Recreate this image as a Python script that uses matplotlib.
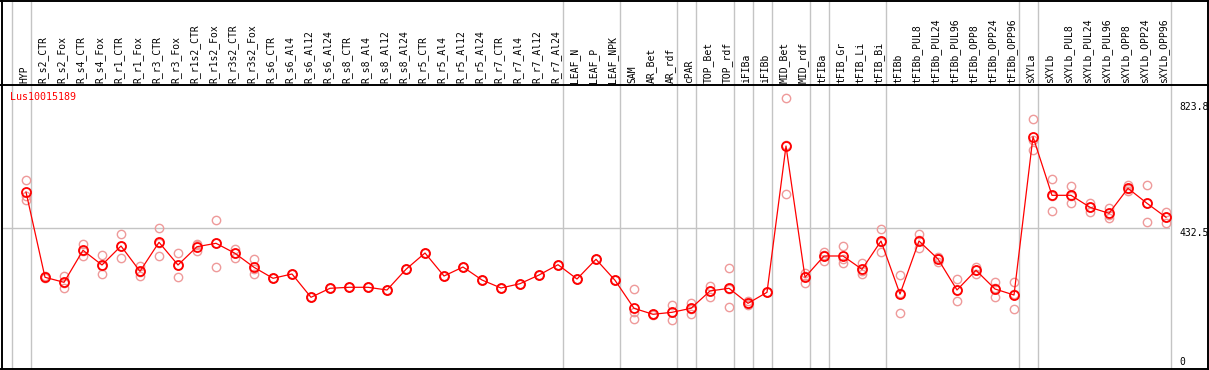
import matplotlib
matplotlib.use("Agg")
import matplotlib.pyplot as plt
from matplotlib.lines import Line2D
import matplotlib.transforms as mtransforms

# ---------------- data ----------------
gene = "Lus10015189"

samples = ["HYP", "R_s2_CTR", "R_s2_Fox", "R_s4_CTR", "R_s4_Fox", "R_r1_CTR", "R_r1_Fox",
           "R_r3_CTR", "R_r3_Fox", "R_r1s2_CTR", "R_r1s2_Fox", "R_r3s2_CTR", "R_r3s2_Fox",
           "R_s6_CTR", "R_s6_Al4", "R_s6_Al12", "R_s6_Al24", "R_s8_CTR", "R_s8_Al4",
           "R_s8_Al12", "R_s8_Al24", "R_r5_CTR", "R_r5_Al4", "R_r5_Al12", "R_r5_Al24",
           "R_r7_CTR", "R_r7_Al4", "R_r7_Al12", "R_r7_Al24", "LEAF_N", "LEAF_P", "LEAF_NPK",
           "SAM", "AR_Bet", "AR_rdf", "cPAR", "TOP_Bet", "TOP_rdf", "iFIBa", "iFIBb",
           "MID_Bet", "MID_rdf", "tFIBa", "tFIB_Gr", "tFIB_Li", "tFIB_Bi", "tFIBb",
           "tFIBb_PUL8", "tFIBb_PUL24", "tFIBb_PUL96", "tFIBb_OPP8", "tFIBb_OPP24", "tFIBb_OPP96",
           "sXYLa", "sXYLb", "sXYLb_PUL8", "sXYLb_PUL24", "sXYLb_PUL96", "sXYLb_OPP8",
           "sXYLb_OPP24", "sXYLb_OPP96"]

means = [544.5, 279.1, 263.5, 363.1, 317.4, 376.5, 297.8, 388.0, 317.4, 374.3, 384.9, 353.8, 310.2,
         276.0, 289.4, 216.9, 244.9, 248.0, 248.0, 239.6, 304.0, 354.7, 283.1, 311.1, 270.7,
         245.8, 259.2, 286.2, 318.3, 273.8, 335.1, 269.8,
         182.6, 164.0, 170.2, 182.6, 236.5, 244.9, 198.2, 232.4,
         687.6, 279.1, 345.4, 345.4, 304.0, 392.0, 227.1,
         392.0, 336.0, 239.6, 300.9, 242.7, 224.0,
         716.6, 534.2, 534.2, 496.9, 478.2, 556.0, 509.3, 465.8]

rep1 = [581.8, 276.0, 283.1, 382.7, 348.5, 413.8, 315.2, 432.5, 354.7, 383.6, 456.4, 368.1, 336.0,
        276.5, 289.0, 217.5, 245.5, 248.5, 247.5, 240.0, 304.5, 355.0, 283.5, 311.5, 271.0,
        246.0, 259.5, 286.5, 318.0, 274.0, 335.5, 270.0,
        241.8, 163.0, 192.9, 200.1, 253.0, 307.1, 205.4, 232.0,
        836.0, 293.4, 358.7, 376.5, 324.5, 428.4, 285.3,
        412.9, 343.2, 272.9, 312.1, 264.5, 264.5,
        770.7, 584.9, 562.2, 511.2, 495.6, 567.2, 566.3, 483.2]

rep2 = [519.6, 282.0, 244.9, 344.4, 289.4, 338.2, 282.2, 344.4, 279.1, 360.9, 311.1, 340.1, 288.4,
        275.5, 290.0, 216.5, 244.5, 247.5, 248.5, 239.0, 303.5, 354.5, 282.5, 310.5, 270.5,
        245.5, 259.0, 286.0, 318.5, 273.5, 334.5, 269.5,
        172.1, 165.0, 145.3, 165.8, 218.7, 185.8, 196.0, 233.0,
        537.3, 262.3, 329.8, 324.5, 290.3, 358.7, 167.1,
        369.3, 325.8, 205.4, 290.3, 216.9, 180.5,
        675.2, 484.4, 509.3, 481.3, 464.5, 547.6, 450.2, 449.0]

rep3 = [532.0, 279.5, 262.5, 362.2, 314.3, 377.5, 296.0, 387.1, 318.4, 378.4, 387.2, 353.2, 306.2,
        276.0, 289.5, 217.0, 245.0, 248.0, 248.0, 239.5, 304.0, 354.5, 283.0, 311.0, 270.5,
        246.0, 259.0, 286.0, 318.5, 274.0, 335.0, 270.0,
        148.4, 164.0, 172.4, 181.9, 237.8, 241.8, 193.2, 232.5,
        689.5, 281.6, 347.7, 335.2, 297.2, 388.9, 228.9,
        393.8, 339.0, 240.5, 300.3, 246.7, 227.0,
        706.3, 533.3, 531.1, 498.2, 474.5, 553.2, 511.4, 465.2]

# group separators (placed after these sample indices)
separators_after = [-1, 0, 28, 31, 34, 35, 37, 38, 39, 41, 42, 45, 52, 53, 60]
tick_values = [823.8, 432.5, 0]
tick_labels = ["823.8", "432.5", "0"]

# ---------------- layout ----------------
W, H = 1209, 370
fig = plt.figure(figsize=(W / 100, H / 100), dpi=100)
fig.patch.set_facecolor("white")

ax_left, ax_right = 1, 1170
ax_top, ax_bottom = 85, 369
ax = fig.add_axes([ax_left / W, 1 - ax_bottom / H, (ax_right - ax_left) / W, (ax_bottom - ax_top) / H])

x0_px, dx_px = 26.0, 19.0
ax.set_xlim((ax_left - x0_px) / dx_px, (ax_right - x0_px) / dx_px)
scale = 0.32139
y0_px = 367.0
ax.set_ylim((y0_px - ax_bottom) / scale, (y0_px - ax_top) / scale)
ax.set_xticks([])
ax.set_yticks([])
for s in ax.spines.values():
    s.set_visible(False)
ax.patch.set_alpha(0)

n = len(samples)
xs = list(range(n))

grey = "#c4c4c4"
top_extra = ax_bottom / (ax_bottom - ax_top)
for k in separators_after:
    ax.axvline(k + 4.5 / dx_px, ymin=0, ymax=top_extra, color=grey, lw=1.0, clip_on=False, zorder=1)
ax.axhline(432.5, color=grey, lw=1.0, zorder=1)

# replicates
for reps in (rep1, rep2, rep3):
    ax.plot(xs, reps, linestyle="none", marker="o", markersize=6.0, markerfacecolor="none",
            markeredgecolor="#ee9a9a", markeredgewidth=1.0, zorder=2, clip_on=False)

# means
ax.plot(xs, means, color="red", lw=0.9, zorder=3, clip_on=False)
ax.plot(xs, means, linestyle="none", marker="o", markersize=6.5, markerfacecolor="none",
        markeredgecolor="red", markeredgewidth=1.3, zorder=4, clip_on=False)

# sample labels
label_tr = mtransforms.blended_transform_factory(ax.transData, ax.transAxes)
label_y = (ax_bottom - 83) / (ax_bottom - ax_top)
for i, name in enumerate(samples):
    ax.text(i - 2 / dx_px, label_y, name, rotation=90, ha="center", va="bottom",
            fontsize=7, family="DejaVu Sans Mono", color="black", transform=label_tr)

# gene name
ax.text((10 - ax_left) / (ax_right - ax_left), (ax_bottom - 97) / (ax_bottom - ax_top), gene,
        color="red", fontsize=7.2, family="DejaVu Sans Mono", ha="left", va="center",
        transform=ax.transAxes)

# right value labels
tick_tr = mtransforms.blended_transform_factory(ax.transAxes, ax.transData)
tx = (1179 - ax_left) / (ax_right - ax_left)
for v, lab in zip(tick_values, tick_labels):
    ax.text(tx, v, lab, fontsize=7, family="DejaVu Sans Mono", ha="left",
            va="bottom" if v == 0 else "top", transform=tick_tr, clip_on=False)

# outer frame and header separator
def fline(xa, ya, xb, yb):
    fig.add_artist(Line2D([xa / W, xb / W], [1 - ya / H, 1 - yb / H], color="black", lw=1.4))

fline(0, 0.5, W, 0.5)
fline(1.5, 0, 1.5, H)
fline(W - 1.5, 0, W - 1.5, H)
fline(0, 368.8, W, 368.8)
fline(0, ax_top, W, ax_top)

fig.savefig("out.png", dpi=100, facecolor="white")
